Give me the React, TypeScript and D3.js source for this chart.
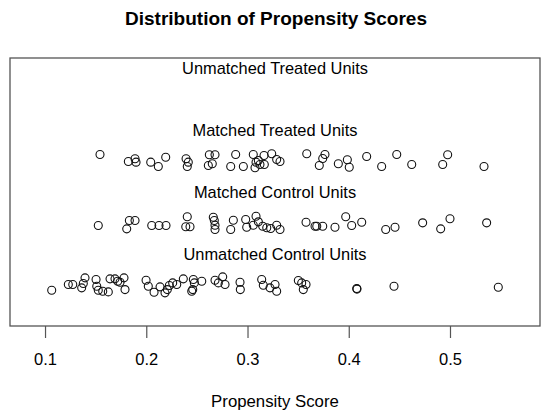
import { useEffect, useRef } from 'react';
import * as d3 from 'd3';

// [propensity score, vertical jitter] for each unit
const matchedTreated: [number, number][] = [
	[0.1543, 0.105], [0.1823, -0.008], [0.1889, 0.035], [0.1899, -0.019], [0.2044, -0.019],
	[0.2119, -0.089], [0.2192, 0.061], [0.2393, 0.035], [0.2415, -0.019], [0.2405, -0.089],
	[0.2623, 0.1], [0.2679, 0.1], [0.2613, -0.073], [0.2652, -0.045], [0.2834, -0.089],
	[0.2883, 0.105], [0.2959, -0.089], [0.3057, 0.105], [0.3084, -0.019], [0.3074, -0.11],
	[0.3123, -0.056], [0.3107, 0.008], [0.3163, 0.089], [0.3166, -0.056], [0.3239, 0.116],
	[0.3288, 0.024], [0.3321, -0.008], [0.3585, 0.116], [0.3765, 0.105], [0.3743, 0.04],
	[0.3709, -0.073], [0.3897, -0.045], [0.3986, 0.019], [0.4005, -0.1], [0.4177, 0.073],
	[0.4325, -0.089], [0.4474, 0.105], [0.4622, -0.056], [0.4928, -0.056], [0.4977, 0.1],
	[0.5336, -0.089],
];

const matchedControl: [number, number][] = [
	[0.1526, -0.04], [0.1807, -0.094], [0.1833, 0.04], [0.1889, 0.04], [0.2054, -0.04],
	[0.2126, -0.04], [0.2195, -0.04], [0.2405, 0.1], [0.239, -0.061], [0.2432, -0.061],
	[0.2662, 0.094], [0.2672, 0.04], [0.2679, -0.035], [0.2679, -0.105], [0.2834, -0.105],
	[0.286, 0.045], [0.2982, 0.056], [0.2992, -0.068], [0.3057, -0.035], [0.3084, 0.11],
	[0.3107, 0.019], [0.315, -0.052], [0.319, -0.077], [0.3229, -0.089], [0.3288, -0.035],
	[0.3321, -0.105], [0.3578, 0.013], [0.3667, -0.052], [0.3684, -0.052], [0.3743, -0.052],
	[0.3864, -0.068], [0.397, 0.1], [0.4029, -0.04], [0.4128, 0.013], [0.4365, -0.105],
	[0.4457, -0.068], [0.473, 0.003], [0.4908, -0.094], [0.5, 0.068], [0.5362, 0.003],
];

const unmatchedControl: [number, number][] = [
	[0.1066, -0.084], [0.123, 0.008], [0.1274, 0.008], [0.1362, -0.045], [0.1395, 0.116],
	[0.1378, 0.024], [0.1504, 0.089], [0.1511, -0.019], [0.1526, -0.084], [0.157, -0.1],
	[0.1625, -0.11], [0.1642, 0.1], [0.1691, 0.1], [0.1718, 0.061], [0.1741, 0.045],
	[0.178, 0.116], [0.179, -0.073], [0.1998, 0.077], [0.202, -0.019], [0.2077, -0.116],
	[0.2136, -0.029], [0.2185, -0.126], [0.2208, -0.073], [0.2228, -0.008], [0.2261, 0.035],
	[0.2301, 0.008], [0.2366, 0.1], [0.2449, -0.1], [0.2459, -0.073], [0.2465, 0.089],
	[0.2475, 0.035], [0.2548, 0.061], [0.2679, 0.077], [0.2755, 0.132], [0.2712, 0.035],
	[0.2778, 0.008], [0.2926, 0.045], [0.2929, -0.073], [0.314, 0.089], [0.3156, -0.003],
	[0.3222, -0.045], [0.3272, 0.008], [0.3288, -0.1], [0.3502, 0.073], [0.3535, 0.035],
	[0.3578, 0.008], [0.3551, -0.073], [0.4079, -0.056], [0.4081, -0.065], [0.4447, -0.019],
	[0.5477, -0.035],
];

const unmatchedTreated: [number, number][] = [];

const groupLabels = ['Unmatched Control Units', 'Matched Control Units', 'Matched Treated Units', 'Unmatched Treated Units'];
const groupData = [unmatchedControl, matchedControl, matchedTreated, unmatchedTreated];
const xTicks = [0.1, 0.2, 0.3, 0.4, 0.5];

const width = 550;
const height = 412;
const margin = { top: 58, right: 10, bottom: 86, left: 10 };
const font = '"Liberation Sans", Arial, sans-serif';

export default function App() {
	const axisRef = useRef<SVGGElement>(null);

	const x = d3.scaleLinear()
		.domain([0.0654, 0.5889])
		.range([margin.left, width - margin.right]);

	const y = d3.scaleLinear()
		.domain([0.34, 4.66])
		.range([height - margin.bottom, margin.top]);

	useEffect(() => {
		const g = d3.select(axisRef.current);
		g.selectAll('*').remove();
		g.call(d3.axisBottom(x).tickValues(xTicks).tickSize(12).tickPadding(15.5).tickFormat(d3.format('.1f')));
		g.select('.domain').remove();
		g.selectAll('.tick line').attr('stroke', '#555').attr('stroke-width', 1.2);
		g.selectAll('.tick text')
			.attr('fill', '#000')
			.style('font-family', font)
			.style('font-size', '16.5px');
	}, []);

	return (
		<svg width={width} height={height} style={{ position: 'absolute', left: 0, top: 0, background: '#fff' }}>
			<text x={276} y={25} textAnchor="middle" fontFamily={font} fontWeight="bold" fontSize={19}>
				Distribution of Propensity Scores
			</text>
			<rect
				x={margin.left}
				y={margin.top}
				width={width - margin.left - margin.right}
				height={height - margin.top - margin.bottom}
				fill="none"
				stroke="#555"
				strokeWidth={1.3}
			/>
			{groupLabels.map((label, i) => (
				<text key={label} x={275} y={y(i + 1.5) + 6} textAnchor="middle" fontFamily={font} fontSize={16.4}>
					{label}
				</text>
			))}
			{groupData.map((pts, i) => (
				<g key={i}>
					{pts.map(([score, jit], j) => (
						<circle key={j} cx={x(score)} cy={y(i + 1 + jit)} r={4} fill="none" stroke="#111" strokeWidth={1.1} />
					))}
				</g>
			))}
			<g ref={axisRef} transform={`translate(0, ${height - margin.bottom})`} />
			<text x={275} y={407} textAnchor="middle" fontFamily={font} fontSize={16.8}>
				Propensity Score
			</text>
		</svg>
	);
}
